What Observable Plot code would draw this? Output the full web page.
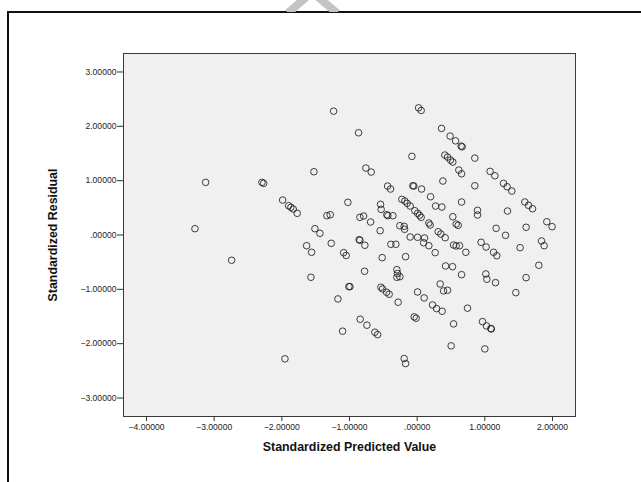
<!DOCTYPE html>
<html>
<head>
<meta charset="utf-8">
<script src="https://cdn.jsdelivr.net/npm/d3@7"></script>
<script src="https://cdn.jsdelivr.net/npm/@observablehq/plot@0.6"></script>
<style>
  html, body { margin: 0; padding: 0; background: #fff; overflow: hidden; }
  #wrap { position: relative; width: 641px; height: 482px; }
  #border { position: absolute; left: 7px; top: 11px; width: 700px; height: 600px;
            border: 2px solid #111; box-sizing: border-box; pointer-events: none; }
  #mark { position: absolute; left: 0; top: 0; pointer-events: none; }
</style>
</head>
<body>
<div id="wrap"></div>
<script>
// Standardized predicted values (x) and standardized residuals (y), one per case
const predicted = [
  -1.235, -1.526, -3.126, -2.294, -2.269, -3.284, -1.988, -1.900, -1.866, -1.832,
  -1.773, -1.334, -1.285, -1.024, -1.511, -1.437, -1.634, -1.270, -1.560, -1.087,
  -1.049, -2.742, -1.570, -1.009, -0.994, -1.171, -1.102, -1.954,
  0.021, 0.059, -0.866, 0.360, 0.487, 0.567, 0.650, 0.665, -0.078, 0.409,
  0.449, 0.493, 0.527, 0.852, -0.758, -0.679, 0.616, 0.656, 1.078, 1.148,
  0.380, 1.276, 1.329, 1.399, -0.064, -0.049, 0.065, 0.852, -0.437, -0.393,
  0.198, 1.591, 1.646, 1.705, -0.226, -0.182, -0.148, -0.103, -0.034, 0.006,
  0.035, 0.059, 0.656, -0.541, -0.532, 0.272, 0.365, 0.892, 0.892, 1.335,
  -0.846, -0.792, -0.448, -0.433, -0.359, 0.527, -0.688, -0.256, -0.192, -0.186,
  0.173, 0.192, 0.576, 0.606, 1.916, 1.994, 1.610, 1.167, -0.547, 0.310,
  0.350, 0.414, 1.306, -0.103, 0.006, 0.109, 0.095, 0.173, -0.857, -0.846,
  -0.773, -0.388, -0.315, 0.538, 0.576, 0.626, 0.945, 1.019, 1.838, 1.876,
  1.521, 0.266, 0.719, 1.129, 1.177, -0.517, -0.171, -0.777, -0.300, -0.290,
  -0.300, -0.256, 0.420, 0.523, 0.656, 1.015, 1.030, 1.158, 1.610, 1.798,
  1.458, -0.536, -0.511, -0.452, -0.414, -0.281, 0.006, 0.103, 0.340, 0.390,
  0.449, 0.227, 0.287, 0.369, 0.744, -0.044, -0.015, -0.842, -0.743, -0.625,
  -0.585, 0.538, 0.966, 1.025, 1.089, 1.096, 0.502, 1.000, -0.192, -0.171
];
const residual = [
  2.279, 1.164, 0.969, 0.969, 0.950, 0.116, 0.643, 0.539, 0.509, 0.478,
  0.399, 0.355, 0.373, 0.601, 0.116, 0.031, -0.197, -0.153, -0.318, -0.325,
  -0.377, -0.465, -0.778, -0.950, -0.950, -1.176, -1.770, -2.279,
  2.340, 2.292, 1.881, 1.961, 1.820, 1.733, 1.636, 1.623, 1.447, 1.471,
  1.434, 1.379, 1.342, 1.415, 1.232, 1.158, 1.195, 1.127, 1.171, 1.090,
  0.993, 0.950, 0.888, 0.809, 0.906, 0.901, 0.846, 0.906, 0.901, 0.846,
  0.704, 0.607, 0.546, 0.483, 0.656, 0.625, 0.583, 0.533, 0.447, 0.399,
  0.362, 0.325, 0.607, 0.564, 0.472, 0.533, 0.515, 0.454, 0.368, 0.441,
  0.325, 0.349, 0.373, 0.355, 0.355, 0.336, 0.239, 0.171, 0.160, 0.105,
  0.221, 0.184, 0.202, 0.178, 0.244, 0.153, 0.142, 0.123, 0.079, 0.061,
  0.018, -0.050, -0.006, -0.037, -0.042, -0.055, -0.142, -0.197, -0.086, -0.097,
  -0.189, -0.171, -0.171, -0.184, -0.202, -0.197, -0.134, -0.221, -0.110, -0.197,
  -0.233, -0.325, -0.318, -0.318, -0.381, -0.417, -0.399, -0.667, -0.638, -0.708,
  -0.778, -0.767, -0.570, -0.583, -0.730, -0.717, -0.814, -0.877, -0.785, -0.557,
  -1.061, -0.961, -0.993, -1.053, -1.090, -1.237, -1.048, -1.158, -0.901, -1.029,
  -1.017, -1.287, -1.355, -1.403, -1.347, -1.507, -1.531, -1.550, -1.660, -1.789,
  -1.833, -1.636, -1.594, -1.673, -1.722, -1.728, -2.040, -2.096, -2.274, -2.366
];

const xTicks = [-4, -3, -2, -1, 0, 1, 2];
const yTicks = [-3, -2, -1, 0, 1, 2, 3];
const xTitle = "Standardized Predicted Value";
const yTitle = "Standardized Residual";

const cases = predicted.map((p, i) => ({p, r: residual[i]}));

// SPSS-style tick text: five decimals, no leading zero for 0
const fmt = v => d3.format(".5f")(v).replace(/^(-?)0\./, "$1.");

const font = "Liberation Sans, Arial, sans-serif";

const chart = Plot.plot({
  width: 641,
  height: 482,
  marginLeft: 123,
  marginRight: 66,
  marginTop: 53,
  marginBottom: 66,
  style: {background: "transparent", fontFamily: font, fontSize: "8.6px", color: "#222"},
  x: {domain: [-4.34, 2.34]},
  y: {domain: [-3.34, 3.34]},
  marks: [
    Plot.frame({fill: "#f0f0f0", stroke: "#3a3a3a", strokeWidth: 1}),
    Plot.axisX(xTicks, {tickSize: 5, tickPadding: 2, tickFormat: fmt, label: null, stroke: "#333"}),
    Plot.axisY(yTicks, {tickSize: 6, tickPadding: 1, tickFormat: fmt, label: null, stroke: "#333"}),
    Plot.dot(cases, {x: "p", y: "r", r: 3.3, stroke: "#1e1e1e", strokeWidth: 1, strokeOpacity: 0.85, fill: "none"}),
    Plot.text([xTitle], {frameAnchor: "bottom", dy: 34, text: d => d, fontWeight: "bold", fontSize: 12.4, fill: "#111"}),
    Plot.text([yTitle], {frameAnchor: "left", textAnchor: "middle", dx: -70, rotate: -90, text: d => d, fontWeight: "bold", fontSize: 12.4, fill: "#111"})
  ]
});

const wrap = document.getElementById("wrap");
wrap.appendChild(chart);

// Page border and the grey peak at the top edge
const border = document.createElement("div");
border.id = "border";
wrap.appendChild(border);

const peak = d3.create("svg").attr("id", "mark").attr("width", 641).attr("height", 12);
peak.append("path")
  .attr("d", "M288,13 L312,-8 L337,13")
  .attr("fill", "none").attr("stroke", "#c4c4c4").attr("stroke-width", 8);
wrap.appendChild(peak.node());
</script>
</body>
</html>
